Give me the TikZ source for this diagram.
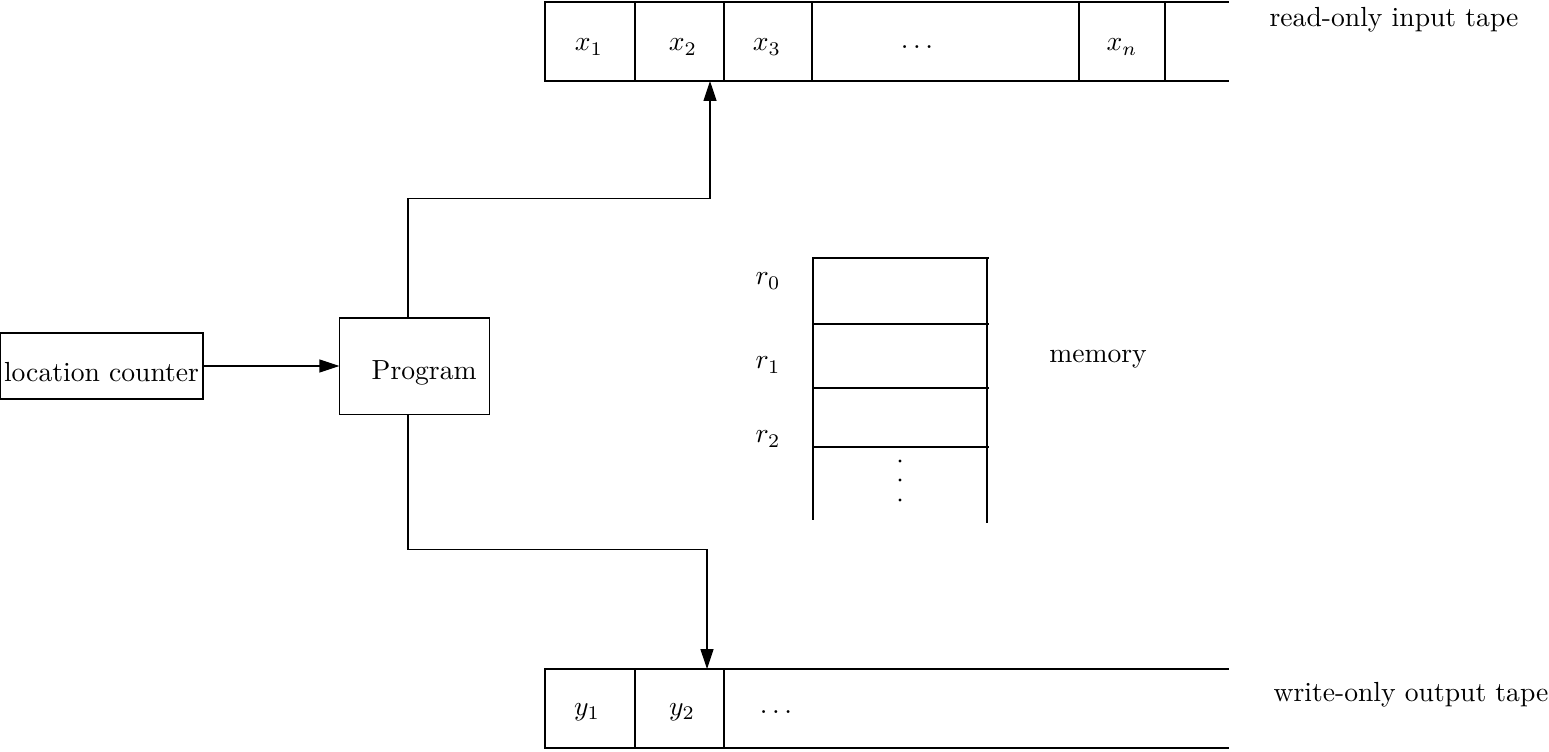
\documentclass[tikz,border=0pt]{standalone}
\usetikzlibrary{arrows.meta,calc}
\begin{document}
\begin{tikzpicture}[x=0.362pt, y=-0.362pt, line width=0.4pt,
  box/.style={draw, inner sep=0pt}, arr/.style={-{Triangle[length=7.2pt,width=4.7pt]}}]
  \useasboundingbox (0,0) rectangle (1549,751);
  % input tape, cells bounded by the verticals
  \draw (544,2) -- (1229,2); \draw (544,81) -- (1229,81);
  \foreach \c in {545,635,724,812,1079,1165} \draw (\c,2) -- (\c,82);
  \node (x1) at (589,47) {$x_1$}; \node (x2) at (683,47) {$x_2$}; \node (x3) at (767,47) {$x_3$};
  \node (xd) at (917,47) {$\ldots$}; \node (xn) at (1122,47) {$x_n$};
  \node (intape) at (1394,20) {read-only input tape};
  \coordinate (xin) at (710,81);
  % output tape
  \draw (544,669) -- (1229,669); \draw (544,748) -- (1229,748);
  \foreach \c in {545,635,724} \draw (\c,669) -- (\c,749);
  \node (y1) at (587,712) {$y_1$}; \node (y2) at (682,712) {$y_2$}; \node (yd) at (776,712) {$\ldots$};
  \node (outtape) at (1411,695) {write-only output tape};
  \coordinate (yout) at (707,669);
  % control part
  \node[box, minimum width=73.5pt, minimum height=23.9pt] (lc) at (101.5,366) {\raisebox{-2.2pt}[\height][\depth]{location counter}};
  \node[box, minimum width=54pt, minimum height=34.8pt] (prog) at (414.5,366) {\raisebox{-2.6pt}[\height][\depth]{\hspace*{7pt}Program}};
  \draw[arr] (lc.east) -- (prog.west);
  \draw[arr] ($(prog.north)+(-6.5,0)$) -- ++(0,-119) -| (xin);
  \draw[arr] ($(prog.south)+(-6.5,0)$) -- ++(0,135) -| (yout);
  % memory registers
  \draw (813,257) -- (813,520); \draw (987,258) -- (987,523);
  \foreach \r in {258,324,388,447} \draw (813,\r) -- (989,\r);
  \foreach \d in {461,480,500} \fill (900,\d) circle (1.6);
  \node (r0) at (768,281) {$r_0$}; \node (r1) at (768,365) {$r_1$}; \node (r2) at (768,439) {$r_2$};
  \node (mem) at (1098,359) {memory};
\end{tikzpicture}
\end{document}
